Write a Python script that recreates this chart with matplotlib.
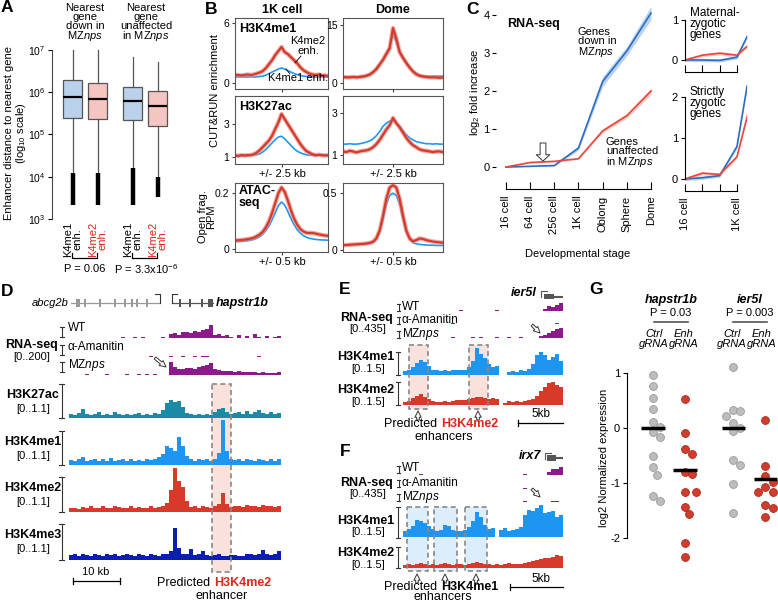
import matplotlib

matplotlib.use('Agg')

import numpy as np
import matplotlib.pyplot as plt
from matplotlib.patches import Rectangle
from matplotlib.ticker import NullLocator

plt.rcParams['font.family'] = ['Liberation Sans', 'DejaVu Sans']
plt.rcParams['font.size'] = 7.5
plt.rcParams['mathtext.fontset'] = 'custom'
plt.rcParams['mathtext.rm'] = 'Liberation Sans'
plt.rcParams['mathtext.it'] = 'Liberation Sans:italic'
plt.rcParams['mathtext.bf'] = 'Liberation Sans:bold'
plt.rcParams['axes.linewidth'] = 0.8
plt.rcParams['xtick.major.width'] = 0.8
plt.rcParams['ytick.major.width'] = 0.8
plt.rcParams['xtick.major.size'] = 3
plt.rcParams['ytick.major.size'] = 3
plt.rcParams['xtick.major.pad'] = 2
plt.rcParams['ytick.major.pad'] = 2

# ---------------- data ----------------
# A: enhancer distance boxplots (K4me1 / K4me2 for down and unaffected genes)
a_pos = [1, 2, 3.4, 4.4]
a_colors = ['#b9d1ea', '#f5c6c1', '#b9d1ea', '#f5c6c1']
a_med = [7.8e5, 6.9e5, 6.2e5, 4.8e5]
a_q1 = [2.5e5, 2.3e5, 2.2e5, 1.6e5]
a_q3 = [1.95e6, 1.66e6, 1.35e6, 1.07e6]
a_whislo = [1.2e4, 1.2e4, 1.6e4, 1.0e4]
a_whishi = [1.0e7, 1.0e7, 6.8e6, 5.2e6]
a_flier_lo = [2.2e3, 2.2e3, 2.2e3, 3.3e3]

# B: metaplots, 31 points across the window
b_k4me1_1k_red = [0.8, 0.8, 0.75, 0.8, 0.85, 0.8, 0.85, 0.95, 1.05, 1.2, 1.5, 1.9, 2.3, 2.8, 3.2, 3.6,
                  3.1, 2.9, 2.6, 2.3, 2.0, 1.6, 1.3, 1.1, 0.95, 0.85, 0.8, 0.85, 0.75, 0.75, 0.7]
b_k4me1_1k_blue = [0.6, 0.6, 0.62, 0.6, 0.6, 0.62, 0.6, 0.62, 0.65, 0.7, 0.8, 0.95, 1.1, 1.25, 1.4, 1.5,
                   1.4, 1.25, 1.1, 0.95, 0.85, 0.75, 0.7, 0.65, 0.62, 0.6, 0.6, 0.62, 0.6, 0.6, 0.6]
b_k4me1_dome_red = [1.6, 1.5, 1.5, 1.6, 1.5, 1.6, 1.7, 1.9, 2.2, 2.8, 3.6, 4.8, 6.0, 7.5, 9.0, 14.2,
                    11.5, 8.0, 6.5, 5.2, 4.0, 3.0, 2.3, 1.9, 1.7, 1.6, 1.5, 1.5, 1.5, 1.4, 1.5]
b_k4me1_dome_blue = [1.6, 1.6, 1.6, 1.6, 1.6, 1.7, 1.8, 2.0, 2.4, 3.0, 3.9, 5.0, 6.3, 7.8, 9.3, 12.5,
                     10.5, 8.2, 6.7, 5.4, 4.2, 3.2, 2.5, 2.1, 1.9, 1.8, 1.8, 1.8, 1.8, 1.8, 1.8]
b_k27ac_1k_red = [1.1, 1.05, 1.1, 1.08, 1.1, 1.1, 1.15, 1.25, 1.4, 1.6, 1.8, 2.0, 2.3, 2.7, 3.1, 3.6,
                  3.3, 3.0, 2.7, 2.4, 2.1, 1.8, 1.55, 1.35, 1.25, 1.15, 1.1, 1.12, 1.1, 1.08, 1.1]
b_k27ac_1k_blue = [1.05, 1.05, 1.08, 1.05, 1.06, 1.08, 1.1, 1.12, 1.18, 1.3, 1.45, 1.65, 1.85, 2.05, 2.2,
                   2.25, 2.1, 1.9, 1.7, 1.5, 1.35, 1.25, 1.18, 1.12, 1.1, 1.08, 1.08, 1.1, 1.08, 1.08, 1.08]
b_k27ac_dome_red = [1.15, 1.12, 1.18, 1.15, 1.1, 1.15, 1.18, 1.2, 1.25, 1.35, 1.5, 1.7, 1.95, 2.2, 2.4,
                    2.75, 2.5, 2.3, 2.05, 1.8, 1.6, 1.45, 1.35, 1.25, 1.2, 1.18, 1.15, 1.12, 1.15, 1.15, 1.12]
b_k27ac_dome_blue = [1.5, 1.5, 1.52, 1.5, 1.5, 1.52, 1.55, 1.6, 1.65, 1.75, 1.9, 2.1, 2.35, 2.5, 2.6,
                     2.65, 2.5, 2.35, 2.15, 1.95, 1.8, 1.7, 1.62, 1.58, 1.55, 1.52, 1.52, 1.5, 1.52, 1.5, 1.5]
b_atac_1k_red = [0.03, 0.031, 0.032, 0.033, 0.035, 0.037, 0.04, 0.045, 0.052, 0.062, 0.078, 0.1, 0.13,
                 0.165, 0.2, 0.22, 0.205, 0.175, 0.14, 0.11, 0.088, 0.072, 0.063, 0.058, 0.057, 0.057,
                 0.055, 0.052, 0.05, 0.048, 0.047]
b_atac_1k_blue = [0.026, 0.027, 0.027, 0.028, 0.029, 0.031, 0.034, 0.038, 0.044, 0.053, 0.066, 0.083,
                  0.105, 0.13, 0.155, 0.168, 0.158, 0.135, 0.11, 0.088, 0.07, 0.057, 0.048, 0.042, 0.038,
                  0.036, 0.034, 0.033, 0.032, 0.032, 0.031]
b_atac_dome_red = [0.04, 0.042, 0.044, 0.046, 0.048, 0.05, 0.052, 0.055, 0.06, 0.07, 0.1, 0.17, 0.3, 0.45,
                   0.55, 0.57, 0.55, 0.45, 0.3, 0.17, 0.1, 0.075, 0.085, 0.1, 0.095, 0.085, 0.078, 0.072,
                   0.068, 0.065, 0.062]
b_atac_dome_blue = [0.038, 0.04, 0.042, 0.044, 0.046, 0.048, 0.05, 0.053, 0.058, 0.068, 0.095, 0.155, 0.27,
                    0.4, 0.48, 0.5, 0.48, 0.4, 0.27, 0.155, 0.09, 0.062, 0.052, 0.047, 0.044, 0.042, 0.04,
                    0.04, 0.038, 0.038, 0.037]

# C: RNA-seq log2 fold increase
c_stages = ['16 cell', '64 cell', '256 cell', '1K cell', 'Oblong', 'Sphere', 'Dome']
c_down = [0, 0.02, 0.04, 0.5, 2.25, 3.05, 4.05]
c_down_lo = [0, 0.01, 0.02, 0.44, 2.12, 2.93, 3.87]
c_down_hi = [0, 0.03, 0.06, 0.56, 2.38, 3.17, 4.23]
c_unaff = [0, 0.12, 0.15, 0.22, 0.95, 1.35, 2.0]
c_unaff_lo = [0, 0.1, 0.13, 0.2, 0.9, 1.29, 1.91]
c_unaff_hi = [0, 0.14, 0.17, 0.24, 1.0, 1.41, 2.07]
c_mz_blue = [0, 0, -0.01, 0.07, 0.95]
c_mz_red = [0, 0.12, 0.17, 0.12, 0.5]
c_sz_blue = [0, 0.03, 0.08, 0.79, 3.3]
c_sz_red = [0, 0.14, 0.11, 0.54, 2.2]

# D: genome browser, hapstr1b locus (53 bins)
d_rna_wt = [0, 0, 0, 0, 0, 0, 0, 0, 0, 0, 0, 0, 0, 20, 0, 0, 20, 0, 20, 0, 0, 0, 0, 25, 0,
            90, 110, 70, 130, 120, 100, 140, 120, 160, 180, 260, 60, 80, 50, 70, 30, 0, 70, 0, 50,
            0, 90, 30, 0, 40, 0, 30, 40]
d_rna_am = [0, 0, 0, 0, 0, 0, 0, 0, 0, 0, 0, 0, 0, 0, 0, 0, 0, 0, 0, 0, 10, 0, 0, 0, 0,
            15, 0, 0, 15, 0, 0, 15, 0, 20, 20, 0, 0, 0, 0, 0, 0, 0, 0, 0, 0, 0, 0, 15, 0, 0, 0, 0, 0]
d_rna_mz = [0, 0, 0, 0, 20, 0, 0, 0, 0, 20, 0, 0, 0, 0, 25, 0, 0, 15, 0, 20, 0, 20, 0, 0, 0,
            260, 150, 120, 110, 130, 140, 120, 150, 170, 200, 240, 120, 90, 80, 70, 80, 60, 70, 60,
            50, 60, 50, 40, 50, 40, 45, 40, 50]
d_k27ac = [0.12, 0.1, 0.15, 0.28, 0.14, 0.1, 0.12, 0.18, 0.1, 0.13, 0.11, 0.2, 0.12, 0.1, 0.14, 0.1,
           0.12, 0.16, 0.1, 0.12, 0.1, 0.15, 0.12, 0.25, 0.5, 0.58, 0.52, 0.55, 0.35, 0.15, 0.12, 0.1,
           0.14, 0.1, 0.12, 0.1, 0.2, 0.28, 0.32, 0.18, 0.12, 0.15, 0.2, 0.14, 0.22, 0.12, 0.18, 0.27,
           0.15, 0.13, 0.2, 0.12, 0.16]
d_k4me1 = [0.15, 0.12, 0.18, 0.25, 0.12, 0.15, 0.2, 0.12, 0.18, 0.14, 0.22, 0.12, 0.15, 0.18, 0.12, 0.2,
           0.14, 0.16, 0.12, 0.2, 0.15, 0.18, 0.25, 0.35, 0.6, 0.55, 0.45, 0.9, 0.6, 0.3, 0.18, 0.14,
           0.2, 0.15, 0.18, 0.14, 0.2, 0.4, 1.45, 0.45, 0.2, 0.15, 0.18, 0.14, 0.2, 0.15, 0.12, 0.2,
           0.15, 0.14, 0.18, 0.12, 0.2]
d_k4me2 = [0.12, 0.14, 0.1, 0.16, 0.12, 0.2, 0.14, 0.12, 0.18, 0.12, 0.14, 0.2, 0.15, 0.12, 0.14, 0.18,
           0.12, 0.16, 0.14, 0.12, 0.18, 0.14, 0.15, 0.2, 0.3, 0.7, 1.42, 1.0, 0.8, 0.35, 0.15, 0.18,
           0.14, 0.2, 0.15, 0.12, 0.18, 0.25, 0.62, 0.25, 0.15, 0.18, 0.2, 0.15, 0.22, 0.18, 0.2, 0.15,
           0.22, 0.2, 0.18, 0.15, 0.2]
d_k4me3 = [0.15, 0.18, 0.12, 0.2, 0.15, 0.14, 0.2, 0.16, 0.12, 0.18, 0.15, 0.2, 0.14, 0.16, 0.2, 0.15,
           0.12, 0.18, 0.16, 0.14, 0.2, 0.15, 0.12, 0.18, 0.2, 0.3, 1.03, 0.4, 0.2, 0.18, 0.35, 0.15,
           0.2, 0.3, 0.16, 0.12, 0.15, 0.18, 0.14, 0.12, 0.16, 0.15, 0.12, 0.14, 0.18, 0.2, 0.15, 0.2,
           0.33, 0.18, 0.15, 0.2, 0.3]
abcg2b_exons = [1.7, 3.4, 6.6, 9.8, 11.9, 13.4, 14.5, 16.6]
hapstr1b_exons = [23.6, 25.7, 28.3]

# E: ier5l locus (40 bins)
e_rna_wt = [0, 0, 0, 0, 0, 0, 0, 0, 0, 0, 0, 0, 0, 0, 60, 0, 0, 0, 0, 0, 0, 0, 0, 60, 0, 0, 0, 0, 0, 0,
            0, 0, 0, 0, 0, 120, 300, 250, 350, 500]
e_rna_am = [0, 0, 0, 0, 0, 0, 0, 0, 0, 0, 0, 0, 40, 0, 0, 0, 0, 0, 0, 0, 0, 0, 0, 0, 0, 0, 0, 0, 0, 0,
            0, 0, 0, 0, 0, 0, 0, 0, 60, 0]
e_rna_mz = [0, 0, 0, 0, 0, 0, 0, 0, 0, 0, 0, 0, 60, 0, 0, 0, 0, 60, 0, 60, 0, 0, 0, 60, 0, 0, 60, 0, 0,
            60, 0, 0, 0, 0, 100, 200, 300, 450, 550, 650]
e_k4me1 = [0.25, 0.3, 0.5, 0.8, 1.0, 0.85, 0.6, 0.35, 0.3, 0.25, 0.3, 0.25, 0.3, 0.35, 0.3, 0.35, 0.5,
           0.9, 1.75, 1.4, 1.1, 0.7, 0.55, 0.6, 0.0, 0.0, 0.2, 0.25, 0.2, 0.3, 0.25, 0.4, 0.7, 1.3, 1.5,
           1.3, 0.95, 1.2, 1.35, 0.9]
e_k4me2 = [0.2, 0.25, 0.45, 0.6, 0.7, 0.55, 0.4, 0.25, 0.2, 0.2, 0.25, 0.2, 0.25, 0.3, 0.3, 0.35, 0.4,
           0.45, 0.55, 0.5, 0.45, 0.4, 0.45, 0.4, 0.0, 0.15, 0.25, 0.2, 0.25, 0.2, 0.25, 0.3, 0.4, 0.6,
           0.9, 1.2, 1.45, 1.5, 1.3, 1.2]

# F: irx7 locus (40 bins)
f_rna_wt = [0, 0, 0, 0, 60, 0, 0, 0, 0, 0, 0, 0, 0, 0, 0, 0, 0, 0, 0, 0, 0, 0, 0, 0, 0, 0, 0, 0, 0, 0,
            60, 0, 0, 0, 0, 0, 200, 400, 350, 500]
f_rna_am = [0, 0, 0, 0, 0, 0, 0, 0, 0, 0, 0, 0, 0, 0, 0, 0, 0, 0, 0, 0, 0, 0, 0, 0, 0, 0, 0, 0, 0, 0,
            40, 0, 0, 0, 0, 0, 0, 0, 0, 0]
f_rna_mz = [0, 0, 0, 0, 0, 0, 0, 0, 0, 0, 0, 0, 0, 0, 0, 0, 0, 0, 0, 0, 0, 0, 0, 0, 0, 0, 0, 0, 0, 0,
            60, 0, 0, 0, 0, 0, 0, 60, 60, 0]
f_k4me1 = [0.3, 0.4, 0.55, 0.85, 0.8, 0.7, 0.55, 0.4, 0.3, 0.35, 0.6, 0.55, 0.35, 0.3, 0.3, 0.35, 0.5,
           0.8, 1.25, 1.0, 0.6, 0.4, 0.45, 0.0, 0.35, 0.45, 0.3, 0.35, 0.4, 0.5, 1.1, 1.35, 1.3, 1.45,
           1.6, 1.2, 1.25, 1.3, 1.0, 1.1]
f_k4me2 = [0.25, 0.3, 0.25, 0.3, 0.35, 0.3, 0.25, 0.3, 0.25, 0.3, 0.35, 0.3, 0.25, 0.3, 0.3, 0.25, 0.3,
           0.35, 0.4, 0.35, 0.3, 0.3, 0.25, 0.3, 0.25, 0.3, 0.35, 0.3, 0.3, 0.3, 0.35, 0.4, 0.5, 0.6,
           0.65, 0.7, 0.75, 0.8, 0.9, 0.85]

# G: CRISPRi expression
g_pos = [0, 1, 2.5, 3.5]
g_hap_ctrl = [0.96, 0.76, 0.55, 0.34, 0.11, 0.01, -0.08, -0.16, -0.52, -0.72, -0.85, -1.25, -1.33]
g_hap_enh = [0.53, -0.09, -0.38, -0.48, -0.8, -0.84, -1.17, -1.17, -1.45, -1.57, -2.1, -2.35]
g_ier_ctrl = [1.11, 0.32, 0.31, 0.21, 0.09, 0.0, -0.06, -0.58, -0.68, -1.02, -1.55]
g_ier_enh = [0.14, -0.7, -0.88, -0.98, -1.07, -1.17, -1.17, -1.41, -1.46, -1.63]
g_medians = [0, -0.76, 0, -0.93]

RED_T = '#e0251b'

W, H = 778, 603
fig = plt.figure(figsize=(W / 100, H / 100), dpi=100)
fig.patch.set_facecolor('white')


def px_axes(x0, y0, x1, y1, **kw):
    return fig.add_axes([x0 / W, 1 - y1 / H, (x1 - x0) / W, (y1 - y0) / H], **kw)


back = px_axes(0, 0, W, H, zorder=-5)
back.set_xlim(0, W)
back.set_ylim(H, 0)
back.axis('off')
front = px_axes(0, 0, W, H, zorder=20)
front.set_xlim(0, W)
front.set_ylim(H, 0)
front.axis('off')


def txt(x, y, s, **kw):
    kw.setdefault('ha', 'center')
    kw.setdefault('va', 'center')
    front.text(x, y, s, **kw)


def sbar(x, y0, y1, cw=2.5, color='#333'):
    front.plot([x, x], [y0, y1], color=color, lw=0.8)
    front.plot([x - cw, x + cw], [y0, y0], color=color, lw=0.8)
    front.plot([x - cw, x + cw], [y1, y1], color=color, lw=0.8)


def open_arrow(tail, tip, hw=0.6, tw=0.25):
    front.annotate('', xy=tip, xytext=tail,
                   arrowprops=dict(arrowstyle='simple,head_width=%s,head_length=0.6,tail_width=%s' % (hw, tw),
                                   fc='white', ec='#333', lw=0.7, shrinkA=0, shrinkB=0))


def track(x0, x1, base, vals, scale_max, bar_px, color, head=50):
    ax = px_axes(x0, base - head, x1, base)
    n = len(vals)
    ax.fill_between(np.arange(n + 1), np.append(vals, vals[-1]), step='post', color=color, lw=0)
    ax.set_xlim(0, n)
    ax.set_ylim(0, scale_max * head / bar_px)
    ax.axis('off')
    return ax


# panel letters
for lab, (x, y) in {'A': (7, 8), 'B': (211, 9), 'C': (473, 9), 'D': (7, 291),
                    'E': (345, 290), 'F': (345, 452), 'G': (596, 290)}.items():
    txt(x, y, lab, fontsize=12.5, fontweight='bold')

# ---------------- A ----------------
axA = px_axes(52, 44, 175, 222)
axA.set_yscale('log')
stats = [dict(med=a_med[i], q1=a_q1[i], q3=a_q3[i], whislo=a_whislo[i], whishi=a_whishi[i], fliers=[])
         for i in range(4)]
bp = axA.bxp(stats, positions=a_pos, widths=0.76, showcaps=False, patch_artist=True,
             boxprops=dict(edgecolor='#555', lw=0.9), medianprops=dict(color='k', lw=1.6),
             whiskerprops=dict(color='#555', lw=0.9))
for patch, c in zip(bp['boxes'], a_colors):
    patch.set_facecolor(c)
axA.vlines(a_pos, a_flier_lo, a_whislo, color='k', lw=3.2)
axA.set_xlim(0.18, 5.08)
axA.set_ylim(10 ** 2.93, 10 ** 7.14)
axA.set_yticks([1e3, 1e4, 1e5, 1e6, 1e7])
axA.yaxis.set_minor_locator(NullLocator())
axA.set_xticks([])
for s in ['top', 'right', 'bottom']:
    axA.spines[s].set_visible(False)
axA.spines['left'].set_bounds(1e3, 1e7)
axA.spines['left'].set_color('#444')
txt(16, 133, 'Enhancer distance to nearest gene\n(log$_{10}$ scale)', rotation=90, fontsize=8,
    linespacing=0.95)

txt(85, 3, 'Nearest\ngene\ndown in\nMZ$\\it{nps}$', va='top', linespacing=0.85, fontsize=8)
txt(146, 3, 'Nearest\ngene\nunaffected\nin MZ$\\it{nps}$', va='top', linespacing=0.85, fontsize=8)
for x, c in [(73, 'k'), (98, RED_T), (133, 'k'), (158, RED_T)]:
    txt(x, 222, 'K4me1\nenh.' if c == 'k' else 'K4me2\nenh.', rotation=90, va='top', color=c,
        linespacing=0.85, fontsize=8)
front.plot([72, 72, 97, 97], [253, 258, 258, 253], color='k', lw=0.9)
front.plot([132, 132, 157, 157], [253, 258, 258, 253], color='k', lw=0.9)
txt(85, 269, 'P = 0.06', fontsize=8)
txt(146, 269, 'P = 3.3x10$^{-6}$', fontsize=8)

# ---------------- B ----------------
b_cols = [(235, 328), (343, 443)]
b_rows = [(18, 89), (96, 164), (183, 252)]
b_panels = [
    (0, 0, b_k4me1_1k_red, b_k4me1_1k_blue, (-0.6, 6.5), [0, 6], ['0', '6'], 2.5),
    (0, 1, b_k4me1_dome_red, b_k4me1_dome_blue, (-1.5, 16.8), [0, 15], ['0', '15'], 2.5),
    (1, 0, b_k27ac_1k_red, b_k27ac_1k_blue, (0.56, 4.7), [1, 3], ['1', '3'], 2.5),
    (1, 1, b_k27ac_dome_red, b_k27ac_dome_blue, (0.55, 3.8), [1, 3], ['1', '3'], 2.5),
    (2, 0, b_atac_1k_red, b_atac_1k_blue, (-0.011, 0.236), [0, 0.2], ['0', '0.2'], 0.5),
    (2, 1, b_atac_dome_red, b_atac_dome_blue, (-0.02, 0.59), [0, 0.5], ['0', '0.5'], 0.5),
]
for r, c, red, blue, ylim, yt, ytl, half in b_panels:
    x0, x1 = b_cols[c]
    y0, y1 = b_rows[r]
    ax = px_axes(x0, y0, x1, y1)
    xs = np.linspace(-half, half, len(red))
    ax.plot(xs, blue, color='#2196f3', lw=1.2)
    ax.plot(xs, red, color='#f08a80', lw=3.2, alpha=0.7)
    ax.plot(xs, red, color='#d33b2c', lw=1.6)
    ax.set_xlim(-half, half)
    ax.set_ylim(*ylim)
    ax.set_yticks(yt)
    ax.set_yticklabels(ytl, fontsize=7.5)
    ax.set_xticks([0])
    ax.set_xticklabels([])
    ax.tick_params(length=2.5, color='#444', pad=1.5)
    for s in ax.spines.values():
        s.set_color('#555')

txt(282, 10, '1K cell', fontsize=9, fontweight='bold')
txt(393, 10, 'Dome', fontsize=9, fontweight='bold')
txt(239, 29, 'H3K4me1', fontsize=9, fontweight='bold', ha='left')
txt(239, 107, 'H3K27ac', fontsize=9, fontweight='bold', ha='left')
txt(239, 197, 'ATAC-\nseq', fontsize=9, fontweight='bold', ha='left', linespacing=0.9)
txt(215, 91, 'CUT&RUN enrichment', rotation=90, fontsize=8)
txt(207, 217, 'Open frag.\nRPM', rotation=90, linespacing=0.85, fontsize=8)
for x in [282, 393]:
    txt(x, 174, '+/- 2.5 kb', fontsize=8)
    txt(x, 262, '+/- 0.5 kb', fontsize=8)
txt(308, 46, 'K4me2\nenh.', linespacing=0.9, fontsize=8)
txt(298, 78, 'K4me1 enh.', fontsize=8)
front.plot([301, 295], [56, 63], color='k', lw=0.6)
front.plot([286, 290], [69, 74], color='k', lw=0.6)

# ---------------- C ----------------
cx = np.arange(len(c_stages))
axC = px_axes(496, 8, 652, 172)
axC.fill_between(cx, c_down_lo, c_down_hi, color='#9cc0ea', alpha=0.7, lw=0)
axC.fill_between(cx, c_unaff_lo, c_unaff_hi, color='#f6b3ad', alpha=0.7, lw=0)
axC.plot(cx, c_down, color='#2c6dc4', lw=1.2)
axC.plot(cx, c_unaff, color='#e8473b', lw=1.2)
axC.set_xlim(-0.41, 6.04)
axC.set_ylim(-0.13, 4.18)
axC.set_yticks([0, 1, 2, 3, 4])
axC.set_yticklabels(['0', '1', '2', '3', '4'], fontsize=8)
axC.tick_params(axis='y', pad=1.5)
axC.set_xticks(cx)
for s in ['top', 'right', 'left']:
    axC.spines[s].set_visible(False)
axC.spines['bottom'].set_position(('outward', 12))
axC.spines['bottom'].set_bounds(0, 6)
axC.tick_params(axis='x', direction='in', length=5, pad=5)
axC.set_xticklabels(c_stages, rotation=90, fontsize=8)
txt(475, 92, 'log$_2$ fold increase', rotation=90, fontsize=8)
txt(578, 254, 'Developmental stage', fontsize=8)
txt(507, 24, 'RNA-seq', fontsize=9, fontweight='bold', ha='left')
txt(578, 27, 'Genes\ndown in\nMZ$\\it{nps}$', ha='left', va='top', linespacing=0.9, fontsize=8)
txt(606, 137, 'Genes\nunaffected\nin MZ$\\it{nps}$', ha='left', va='top', linespacing=0.9, fontsize=8)
open_arrow((543, 143), (543, 161), hw=1.3, tw=0.55)

c_sub = [(12, 62, c_mz_blue, c_mz_red, (-0.05, 1.2), [0, 1], 'Maternal-\nzygotic\ngenes', 7),
         (85, 181, c_sz_blue, c_sz_red, (-0.05, 2.29), [0, 1, 2], 'Strictly\nzygotic\ngenes', 86)]
for y0, y1, blue, red, ylim, yt, lab, ly in c_sub:
    ax = px_axes(685, y0, 747, y1)
    xs = np.arange(len(blue))
    ax.fill_between(xs, np.array(red) - 0.04, np.array(red) + 0.04, color='#f6b3ad', alpha=0.7, lw=0)
    ax.fill_between(xs, np.array(blue) - 0.04, np.array(blue) + 0.04, color='#9cc0ea', alpha=0.7, lw=0)
    ax.plot(xs, blue, color='#2c6dc4', lw=1.2)
    ax.plot(xs, red, color='#e8473b', lw=1.2)
    ax.set_xlim(0, 3.58)
    ax.set_ylim(*ylim)
    ax.set_yticks(yt)
    ax.set_yticklabels([str(v) for v in yt], fontsize=8)
    ax.set_xticks([0, 1, 2, 3])
    for s in ['top', 'right']:
        ax.spines[s].set_visible(False)
    ax.spines['left'].set_bounds(0, yt[-1])
    ax.spines['bottom'].set_position(('outward', 7))
    ax.spines['bottom'].set_bounds(0, 3)
    ax.tick_params(axis='x', direction='in', length=5, pad=5)
    if y0 < 50:
        ax.set_xticklabels([])
    else:
        ax.set_xticklabels(['16 cell', '', '', '1K cell'], rotation=90, fontsize=8)
    txt(690, ly, lab, ha='left', va='top', linespacing=0.9, fontsize=8.5)

# ---------------- D ----------------
DX0, DX1 = 69, 281
back.add_patch(Rectangle((212, 384), 19, 188, fc='#fbe1dc', ec='none'))
front.add_patch(Rectangle((212, 384), 19, 188, fill=False, ec='#888', lw=1.2, ls=(0, (3, 2))))

axg = px_axes(DX0, 294, DX1, 312)
axg.set_xlim(0, 45)
axg.set_ylim(1, -1)
axg.axis('off')
axg.plot([0.4, 19.4], [0, 0], color='#999', lw=0.9)
for e in abcg2b_exons:
    axg.add_patch(Rectangle((e - 0.25, -0.4), 0.5, 0.8, color='#999', lw=0))
axg.add_patch(Rectangle((1.5, -0.4), 0.9, 0.8, color='#999', lw=0))
axg.plot([21.9, 30.6], [0, 0], color='#555', lw=0.9)
for e in hapstr1b_exons:
    axg.add_patch(Rectangle((e - 0.2, -0.4), 0.4, 0.8, color='#555', lw=0))
axg.add_patch(Rectangle((29.6, -0.4), 1.0, 0.8, color='#555', lw=0))
axg.plot([19.4, 19.4, 18.3], [0, -0.95, -0.95], color='#333', lw=0.8)
axg.plot([21.9, 21.9, 23.0], [0, -0.95, -0.95], color='#333', lw=0.8)
txt(50, 303, 'abcg2b', style='italic', fontsize=8)
txt(216, 303, 'hapstr1b', fontsize=9, fontweight='bold', style='italic', ha='left')

for base, vals in [(338, d_rna_wt), (357, d_rna_am), (375, d_rna_mz)]:
    track(DX0, DX1, base, vals, 200, 10, '#8c1a8c', head=16)
for base, vals, col in [(418, d_k27ac, '#1b8aa6'), (465, d_k4me1, '#1c96f0'),
                        (512, d_k4me2, '#d83a2a'), (560, d_k4me3, '#0a1fb0')]:
    track(DX0, DX1, base, vals, 1.1, 34, col, head=48)

txt(32, 345, 'RNA-seq', fontsize=9, fontweight='bold')
txt(32, 357, '[0..200]', fontsize=8)
for y, s in [(328, 'WT'), (347, 'α-Amanitin'), (365, 'MZ$\\it{nps}$')]:
    txt(68, y, s, ha='left', fontsize=8.5)
for y0, y1 in [(327, 337), (345, 355), (362, 372)]:
    sbar(62, y0, y1, cw=2)
for lab, ly, y0, y1 in [('H3K27ac', 395, 384, 418), ('H3K4me1', 442, 431, 465),
                        ('H3K4me2', 488, 477, 512), ('H3K4me3', 535, 524, 560)]:
    txt(33, ly, lab, fontsize=9, fontweight='bold')
    txt(33, ly + 14, '[0..1.1]', fontsize=8)
    sbar(62, y0, y1, cw=2.5)
open_arrow((155, 358), (166, 367), hw=0.6, tw=0.25)
front.plot([73, 120], [581, 581], color='k', lw=0.9)
front.plot([73, 73], [578, 584], color='k', lw=0.9)
front.plot([120, 120], [578, 584], color='k', lw=0.9)
txt(96, 572, '10 kb', fontsize=8)
txt(214, 583, 'Predicted ', ha='right', fontsize=9)
txt(214, 583, 'H3K4me2', ha='left', fontsize=9, fontweight='bold', color=RED_T)
txt(222, 596, 'enhancer', fontsize=9)

# ---------------- E ----------------
EX0, EX1 = 403, 563
for x0 in [409, 469]:
    back.add_patch(Rectangle((x0, 345), 19, 64, fc='#fbe1dc', ec='none'))
    front.add_patch(Rectangle((x0, 345), 19, 64, fill=False, ec='#888', lw=1.2, ls=(0, (3, 2))))
for base, vals in [(311, e_rna_wt), (324, e_rna_am), (338, e_rna_mz)]:
    track(EX0, EX1, base, vals, 435, 7, '#8c1a8c', head=11)
track(EX0, EX1, 375, e_k4me1, 1.5, 23, '#1c96f0', head=30)
track(EX0, EX1, 405, e_k4me2, 1.5, 23, '#d83a2a', head=30)
txt(367, 318, 'RNA-seq', fontsize=9, fontweight='bold')
txt(368, 329, '[0..435]', fontsize=8)
for y, s in [(307, 'WT'), (320, 'α-Amanitin'), (334, 'MZ$\\it{nps}$')]:
    txt(402, y, s, ha='left', fontsize=8.5)
for y0, y1 in [(304, 311), (317, 324), (331, 338)]:
    sbar(399, y0, y1, cw=1.5)
txt(366, 357, 'H3K4me1', fontsize=9, fontweight='bold')
txt(368, 369, '[0..1.5]', fontsize=8)
txt(366, 390, 'H3K4me2', fontsize=9, fontweight='bold')
txt(368, 402, '[0..1.5]', fontsize=8)
sbar(398, 352, 375, cw=2)
sbar(398, 382, 405, cw=2)
for x in [418, 478]:
    open_arrow((x, 420), (x, 411), hw=0.6, tw=0.25)
txt(441, 424, 'Predicted ', ha='right', fontsize=9)
txt(441, 424, 'H3K4me2', ha='left', fontsize=9, fontweight='bold', color=RED_T)
txt(444, 437, 'enhancers', fontsize=9)
open_arrow((532, 325), (540, 333), hw=0.6, tw=0.25)
front.plot([518, 563], [423, 423], color='k', lw=0.9)
front.plot([518, 518], [420, 426], color='k', lw=0.9)
txt(541, 414, '5kb', fontsize=8.5)
txt(537, 293, 'ier5l', fontsize=9, fontweight='bold', style='italic', ha='right')
front.plot([541, 541, 547], [297, 291, 291], color='#555', lw=0.8)
front.add_patch(Rectangle((544, 294), 10, 5, color='#555', lw=0))
front.plot([554, 562], [296.5, 296.5], color='#555', lw=1.5)

# ---------------- F ----------------
for x0, w in [(407, 21), (434, 23), (465, 22)]:
    back.add_patch(Rectangle((x0, 507), w, 64, fc='#dcedfb', ec='none'))
    front.add_patch(Rectangle((x0, 507), w, 64, fill=False, ec='#888', lw=1.2, ls=(0, (3, 2))))
for base, vals in [(475, f_rna_wt), (489, f_rna_am), (502, f_rna_mz)]:
    track(EX0, EX1, base, vals, 435, 7, '#8c1a8c', head=11)
track(EX0, EX1, 537, f_k4me1, 1.5, 30, '#1c96f0', head=36)
track(EX0, EX1, 568, f_k4me2, 1.5, 21, '#d83a2a', head=26)
txt(367, 483, 'RNA-seq', fontsize=9, fontweight='bold')
txt(368, 494, '[0..435]', fontsize=8)
for y, s in [(468, 'WT'), (483, 'α-Amanitin'), (497, 'MZ$\\it{nps}$')]:
    txt(402, y, s, ha='left', fontsize=8.5)
for y0, y1 in [(466, 473), (480, 487), (494, 501)]:
    sbar(399, y0, y1, cw=1.5)
txt(366, 521, 'H3K4me1', fontsize=9, fontweight='bold')
txt(368, 532, '[0..1.5]', fontsize=8)
txt(366, 553, 'H3K4me2', fontsize=9, fontweight='bold')
txt(368, 565, '[0..1.5]', fontsize=8)
sbar(398, 507, 538, cw=2)
sbar(398, 547, 568, cw=2)
for x in [417, 445, 476]:
    open_arrow((x, 583), (x, 574), hw=0.6, tw=0.25)
txt(441, 587, 'Predicted ', ha='right', fontsize=9)
txt(441, 587, 'H3K4me1', ha='left', fontsize=9, fontweight='bold')
txt(443, 597, 'enhancers', fontsize=9)
open_arrow((532, 489), (540, 497), hw=0.6, tw=0.25)
front.plot([510, 563], [587, 587], color='k', lw=0.9)
front.plot([510, 510], [584, 590], color='k', lw=0.9)
txt(541, 579, '5kb', fontsize=8.5)
txt(541, 456, 'irx7', fontsize=9, fontweight='bold', style='italic', ha='right')
front.plot([545, 545, 551], [459, 453, 453], color='#555', lw=0.8)
front.add_patch(Rectangle((547, 455), 9, 6, color='#555', lw=0))
front.plot([556, 562], [458, 458], color='#555', lw=1.5)

# ---------------- G ----------------
axG = px_axes(627, 354, 778, 565)


def swarm_x(vals, center, dx=0.23, dy=0.135):
    placed = []
    for v in vals:
        for k in [0, 0.5, -0.5, 1, -1, 1.5, -1.5]:
            x = center + k * dx
            if all(((x - px) / dx) ** 2 + ((v - py) / dy) ** 2 >= 1 for px, py in placed):
                placed.append((x, v))
                break
    return [p[0] for p in placed]


for vals, pos, fc, ec in [(g_hap_ctrl, g_pos[0], '#bdbdbd', '#9a9a9a'), (g_hap_enh, g_pos[1], '#d23c2c', '#a8281c'),
                          (g_ier_ctrl, g_pos[2], '#bdbdbd', '#9a9a9a'), (g_ier_enh, g_pos[3], '#d23c2c', '#a8281c')]:
    axG.scatter(swarm_x(vals, pos), vals, s=32, color=fc, edgecolors=ec, linewidths=0.6, zorder=2)
axG.hlines(g_medians, np.array(g_pos) - 0.36, np.array(g_pos) + 0.36, color='k', lw=2.5, zorder=3)
axG.set_xlim(-0.81, 3.9)
axG.set_ylim(-2.5, 1.35)
axG.set_yticks([-2, -1, 0, 1])
axG.set_yticklabels(['-2', '-1', '0', '1'], fontsize=8)
axG.set_xticks([])
for s in ['top', 'right', 'bottom']:
    axG.spines[s].set_visible(False)
axG.spines['left'].set_bounds(-2, 1)
txt(604, 458, 'log2 Normalized expression', rotation=90, fontsize=8)
txt(671, 300, 'hapstr1b', fontsize=9, fontweight='bold', style='italic')
txt(671, 313, 'P = 0.03', fontsize=8)
front.plot([654, 688], [322, 322], color='#555', lw=1.2)
txt(750, 300, 'ier5l', fontsize=9, fontweight='bold', style='italic')
txt(750, 313, 'P = 0.003', fontsize=8)
front.plot([733, 767], [322, 322], color='#555', lw=1.2)
for x, s in [(654, 'Ctrl\ngRNA'), (684, 'Enh\ngRNA'), (732, 'Ctrl\ngRNA'), (762, 'Enh\ngRNA')]:
    txt(x, 339, s, style='italic', linespacing=0.9, fontsize=8)

fig.savefig('out.png', dpi=100)
